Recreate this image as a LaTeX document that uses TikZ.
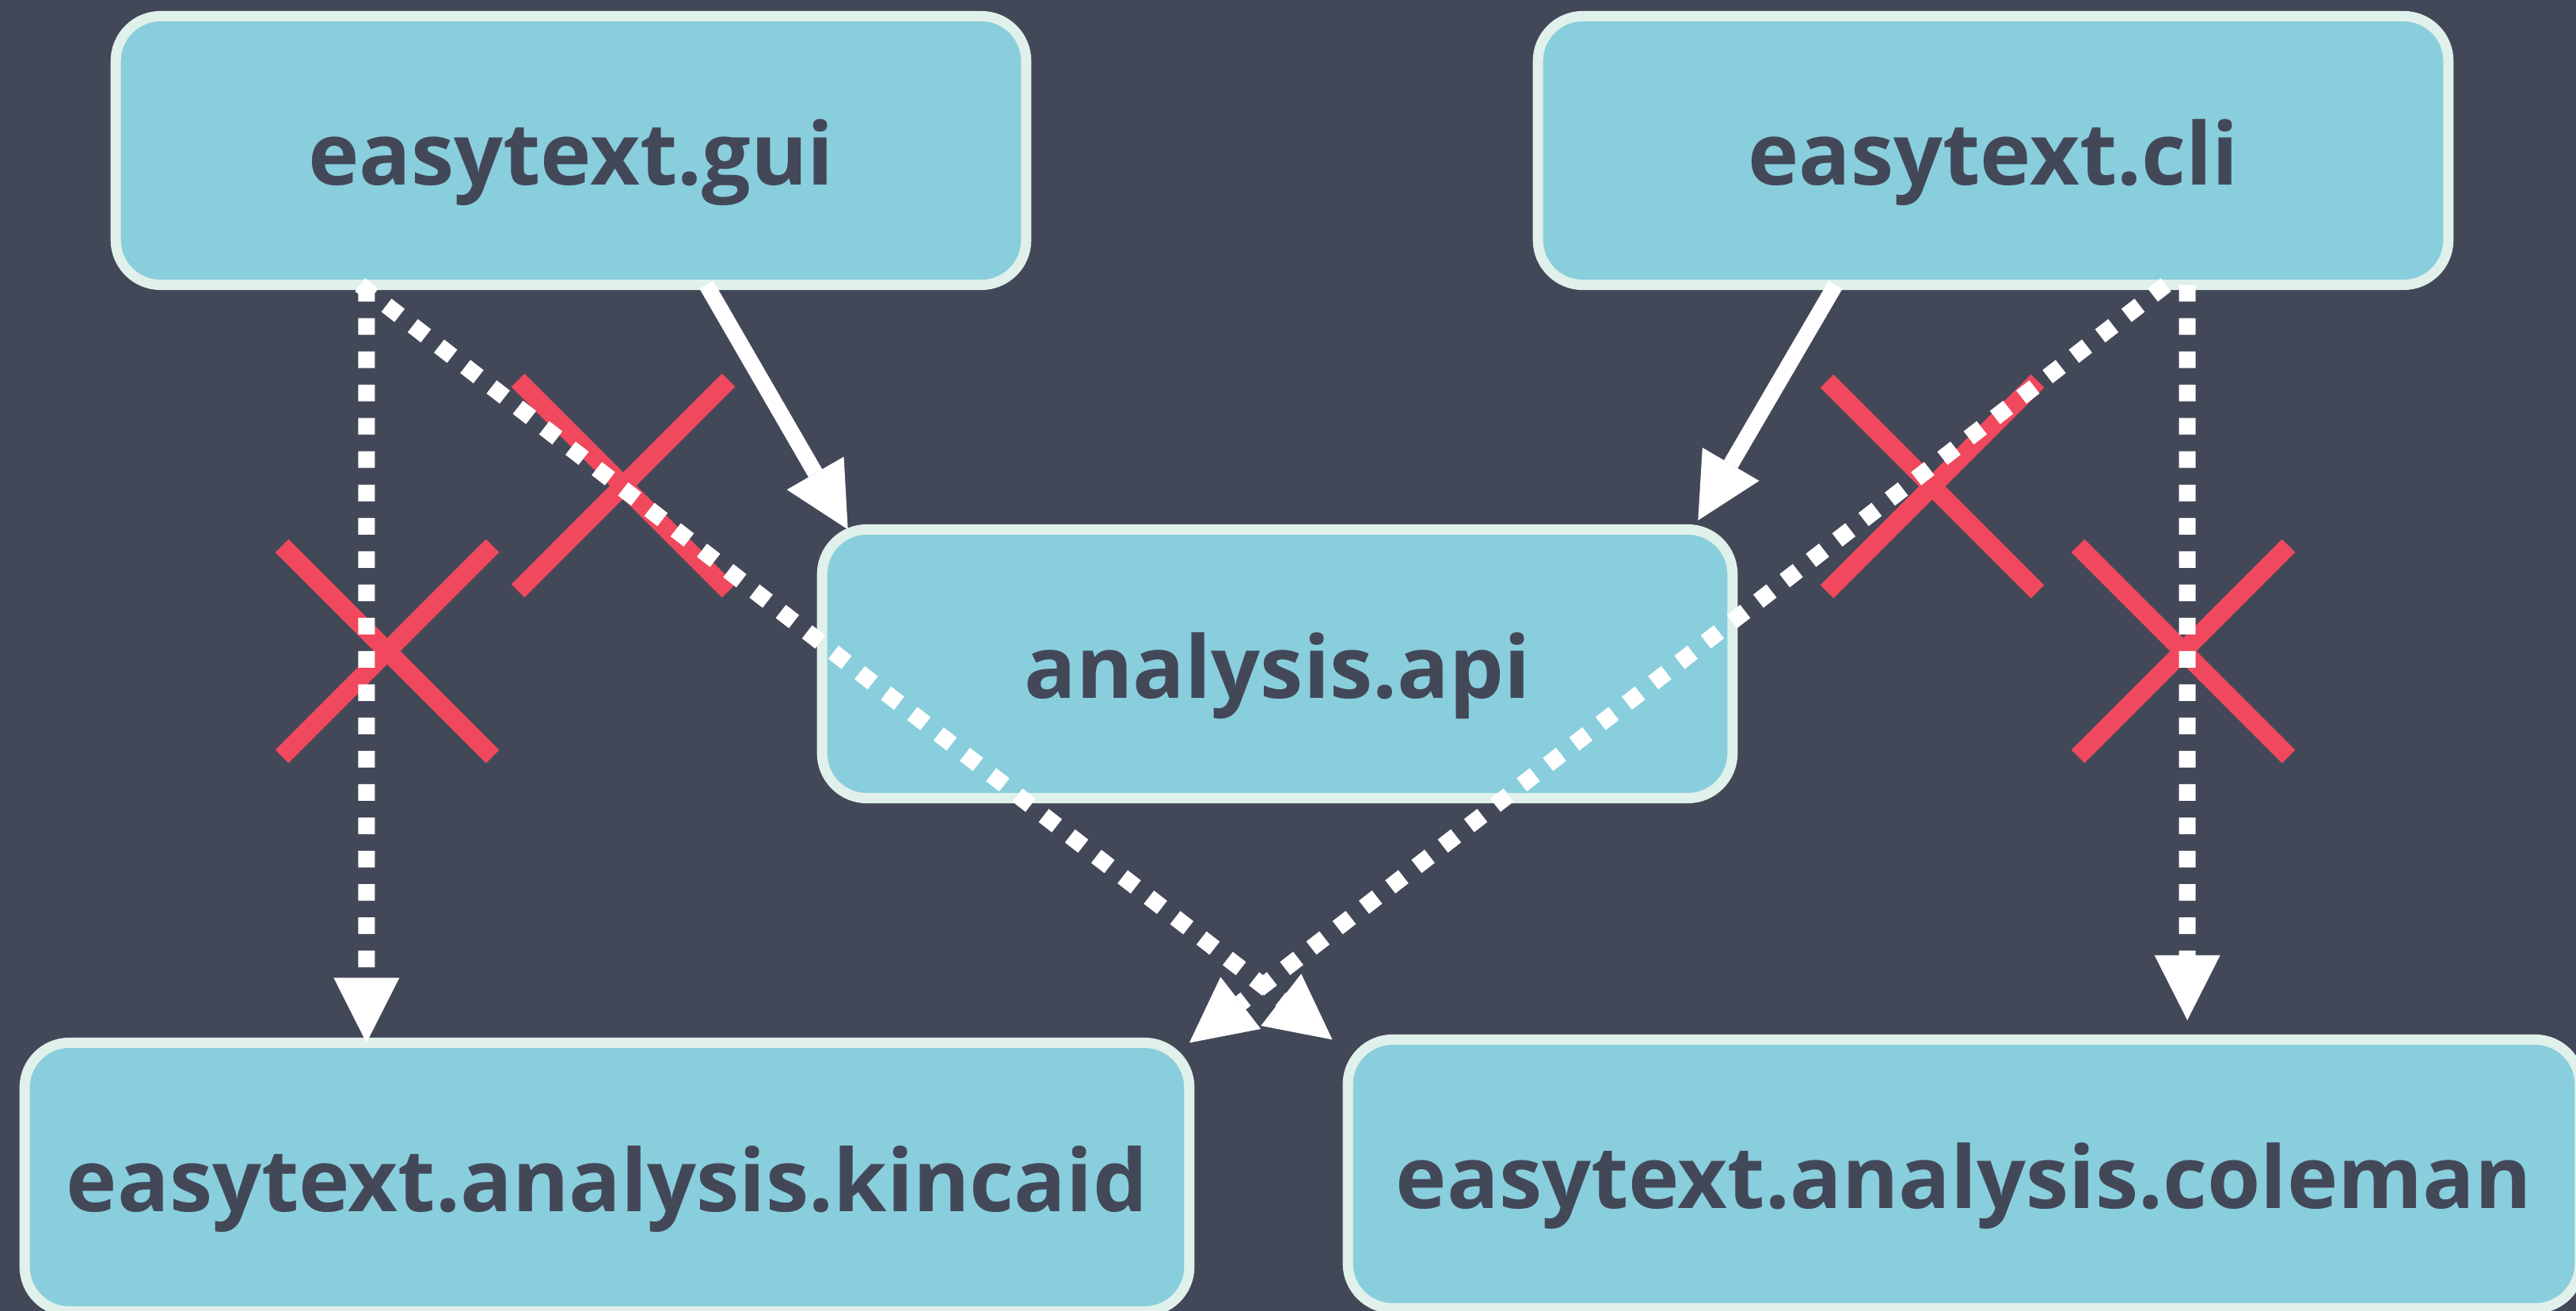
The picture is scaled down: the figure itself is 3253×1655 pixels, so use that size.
\documentclass[tikz,border=0pt]{standalone}
\usepackage{fontspec}
\setmainfont{Open Sans}
\usetikzlibrary{arrows.meta,shadows}
\definecolor{bg}{HTML}{434859}
\definecolor{boxfill}{HTML}{89CEDC}
\definecolor{boxline}{HTML}{E0F0EA}
\definecolor{crossred}{HTML}{F0485C}
\tikzset{
  modbox/.style={draw=boxline, fill=boxfill, line width=0.13cm, rounded corners=0.565cm,
    minimum height=3.39cm, inner sep=0pt, outer sep=0pt, text=bg,
    font=\fontsize{31pt}{37pt}\selectfont\bfseries, text height=0.86cm, text depth=0cm,
    drop shadow={shadow xshift=0cm, shadow yshift=-0.045cm, opacity=0.3, fill=black}},
  dep/.style={draw=white, line width=0.2cm, -{Triangle[length=0.82cm,width=0.83cm,line width=0pt]}},
  dotdep/.style={dep, line width=0.21cm, dash pattern=on 0.21cm off 0.21cm},
  xmark/.style={draw=crossred, line width=0.235cm},
}
\begin{document}
\begin{tikzpicture}[x=0.01cm, y=-0.01cm]
\fill[bg] (0,0) rectangle (3253,1655);
\useasboundingbox (0,0) rectangle (3253,1655);

\node[modbox, minimum width=11.49cm] (gui) at (721,190) {easytext.gui};
\node[modbox, minimum width=11.49cm] (cli) at (2517,190) {easytext.cli};
\node[modbox, minimum width=11.49cm] (api) at (1613,838) {analysis.api};
\node[modbox, minimum width=14.70cm] (kincaid) at (766.5,1486) {easytext.analysis.kincaid};
\node[modbox, minimum width=15.55cm] (coleman) at (2480,1482) {easytext.analysis.coleman};

% red crosses
\draw[xmark] (356,689) -- (622,955) (356,955) -- (622,689);
\draw[xmark] (654,480) -- (920,746) (654,746) -- (920,480);
\draw[xmark] (2307,481) -- (2573,747) (2307,747) -- (2573,481);
\draw[xmark] (2624,689) -- (2890,955) (2624,955) -- (2890,689);

% connectors
\draw[dotdep] ([xshift=3.165cm]gui.south west) -- ([xshift=4.315cm]kincaid.north west);
\draw[dotdep] ([xshift=3.085cm]gui.south west) -- ([xshift=-0.195cm]coleman.north west);
\draw[dotdep] ([xshift=7.925cm]cli.south west) -- (kincaid.north east);
\draw[dotdep] ([xshift=8.195cm]cli.south west) -- ([xshift=10.595cm,yshift=0.245cm]coleman.north west);
\draw[dep] ([xshift=7.455cm]gui.south west) -- ([xshift=0.325cm]api.north west);
\draw[dep] ([xshift=3.755cm]cli.south west) -- ([xshift=-0.435cm,yshift=0.115cm]api.north east);
\end{tikzpicture}
\end{document}
